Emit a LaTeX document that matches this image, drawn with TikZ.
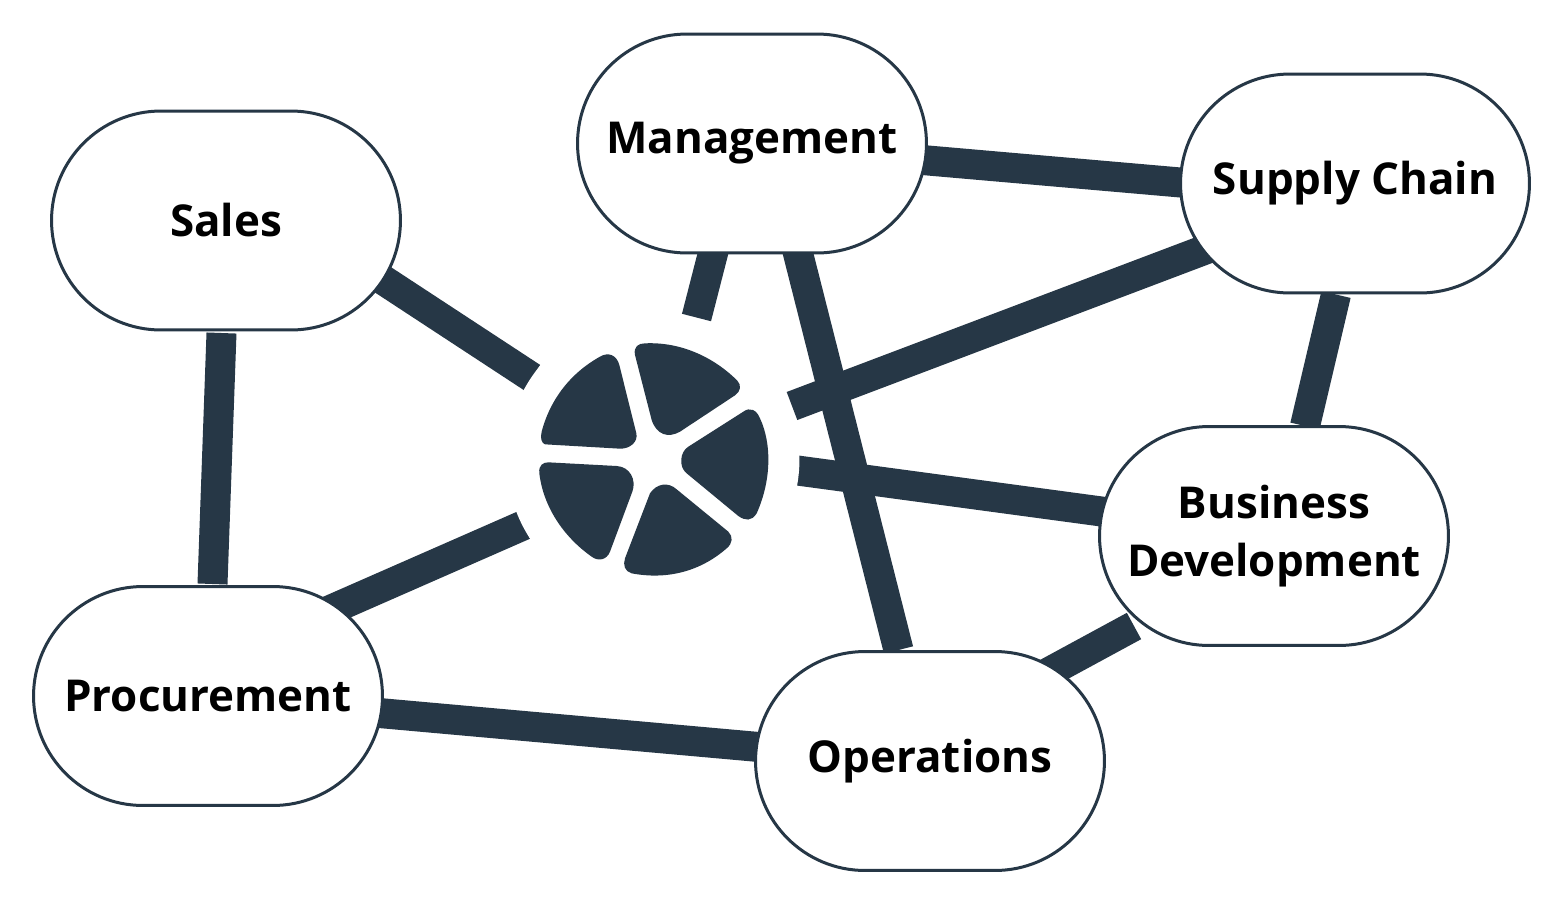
\documentclass[tikz,border=0pt]{standalone}
\usepackage{fontspec}
\setmainfont{Open Sans}
\usetikzlibrary{backgrounds, shapes.misc}
\definecolor{mnavy}{HTML}{263746}
\tikzset{
  teambox/.style={rounded rectangle, draw=mnavy, fill=white, line width=0.06cm,
                  minimum width=6.98cm, minimum height=4.38cm, inner sep=0pt,
                  align=center, text=black, font=\fontsize{25}{33}\selectfont\bfseries},
  hubdisc/.style={circle, fill=white, minimum size=5.86cm, inner sep=0pt},
  link/.style={mnavy, line width=0.6cm},
  slice/.style={fill=mnavy},
}
\begin{document}
\begin{tikzpicture}[x=0.02cm, y=-0.02cm]
  \useasboundingbox (0,0) rectangle (1563,907);

  \node[teambox] (sales) at (226,220.5) {Sales};
  \node[teambox] (mgmt) at (752,143.5) {Management};
  \node[teambox] (supply) at (1355,183.5) {Supply Chain};
  \node[teambox] (bizdev) at (1274,536) {Business\\Development};
  \node[teambox] (ops) at (930,761) {Operations};
  \node[teambox] (proc) at (208,696) {Procurement};

  \node[hubdisc] (hub) at (653,459) {};

  % connectors sit behind the boxes
  \begin{scope}[on background layer]
    \draw[link] ([shift={(142,49.5)}]sales.center) -- ([shift={(-121,-81.5)}]hub.center);
    \draw[link] ([shift={(-4.5,112.5)}]sales.center) -- ([shift={(4.5,-112)}]proc.center);
    \draw[link] ([shift={(-36.5,100)}]mgmt.center) -- ([shift={(43.5,-141.5)}]hub.center);
    \draw[link] ([shift={(43.5,100)}]mgmt.center) -- ([shift={(-31.5,-111)}]ops.center);
    \draw[link] ([shift={(160,15.6)}]mgmt.center) -- ([shift={(-155,0.7)}]supply.center);
    \draw[link] ([shift={(-135,60.5)}]supply.center) -- ([shift={(139,-53)}]hub.center);
    \draw[link] ([shift={(-19,111)}]supply.center) -- ([shift={(31,-110)}]bizdev.center);
    \draw[link] ([shift={(-154,-22)}]bizdev.center) -- ([shift={(100,5.5)}]hub.center);
    \draw[link] ([shift={(-140,90)}]bizdev.center) -- ([shift={(110,-84)}]ops.center);
    \draw[link] ([shift={(120,-85)}]proc.center) -- ([shift={(-129,66)}]hub.center);
    \draw[link] ([shift={(160,16)}]proc.center) -- ([shift={(-160,-13)}]ops.center);
  \end{scope}

  % the five slices of the logo
  \begin{scope}[shift={(500,310)}, scale=1/3]
    \fill[slice] (135,403) -- (360,416) .. controls (390,417) and (415,395) .. (409,370)
      -- (358,165) .. controls (350,135) and (325,125) .. (300,140)
      .. controls (210,190) and (150,270) .. (125,365)
      .. controls (120,385) and (125,400) .. (135,403) -- cycle;
    \fill[slice] (405,135) .. controls (400,110) and (415,100) .. (435,100)
      .. controls (540,95) and (640,140) .. (712,212)
      .. controls (725,225) and (722,245) .. (705,256)
      -- (540,365) .. controls (505,385) and (470,375) .. (455,330) -- cycle;
    \fill[slice] (565,410) -- (730,305) .. controls (750,290) and (770,300) .. (780,325)
      .. controls (815,400) and (815,510) .. (770,610)
      .. controls (755,635) and (735,632) .. (715,618)
      -- (560,490) .. controls (535,470) and (540,425) .. (565,410) -- cycle;
    \fill[slice] (450,550) .. controls (470,520) and (505,515) .. (530,538)
      -- (685,665) .. controls (700,680) and (698,700) .. (680,715)
      .. controls (600,785) and (500,810) .. (395,790)
      .. controls (375,785) and (368,765) .. (375,745) -- cycle;
    \fill[slice] (145,457) -- (350,468) .. controls (390,470) and (410,510) .. (397,545)
      -- (330,725) .. controls (320,750) and (295,755) .. (275,740)
      .. controls (190,680) and (130,590) .. (118,490)
      .. controls (115,465) and (130,457) .. (145,457) -- cycle;
  \end{scope}
\end{tikzpicture}
\end{document}
